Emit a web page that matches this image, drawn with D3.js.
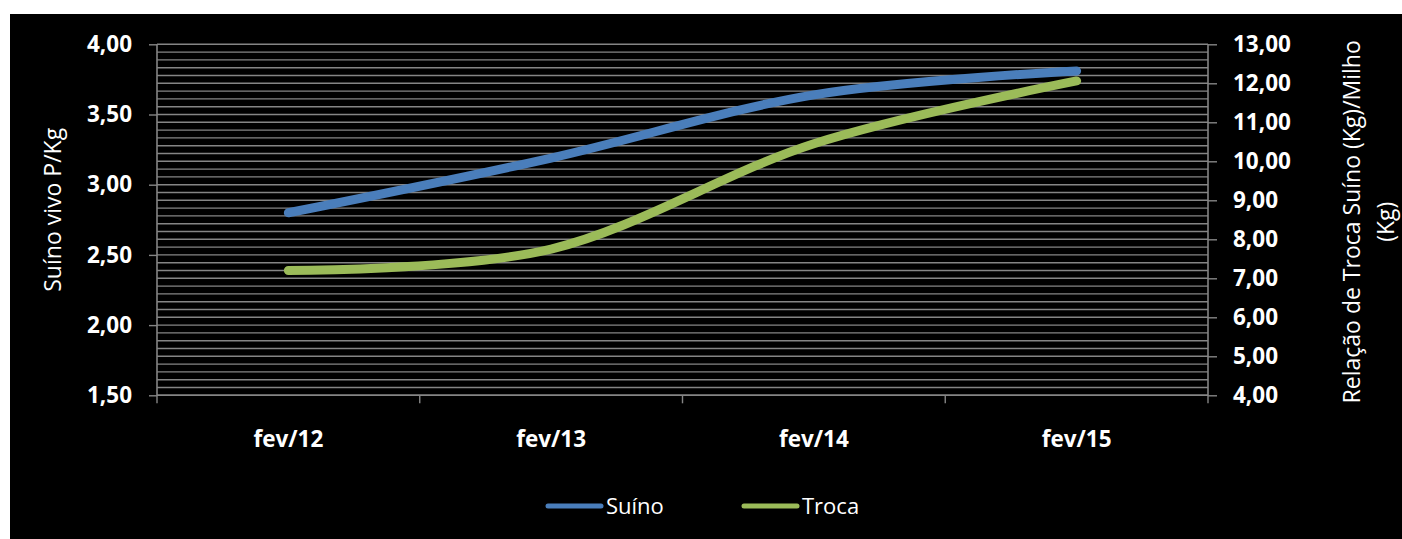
<!DOCTYPE html>
<html>
<head>
<meta charset="utf-8">
<script src="https://cdn.jsdelivr.net/npm/d3@7/dist/d3.min.js"></script>
<style>
  html, body { margin: 0; padding: 0; background: #ffffff; }
  svg { display: block; }
  text { font-family: "Open Sans", "Noto Sans", sans-serif; fill: #ffffff; }
</style>
</head>
<body>
<svg id="chart" width="1402" height="539"></svg>
<script>
// Monthly reference points (February of each year)
const categories = ["fev/12", "fev/13", "fev/14", "fev/15"];
// Live hog price, R$/kg (left axis)
const suinoValues = [2.80, 3.19, 3.64, 3.81];
// Hog/corn exchange ratio, kg of corn per kg of hog (right axis)
const trocaValues = [7.20, 7.75, 10.45, 12.06];
// Axis tick values
const leftTicks = [1.5, 2.0, 2.5, 3.0, 3.5, 4.0];
const rightTicks = [4, 5, 6, 7, 8, 9, 10, 11, 12, 13];
const seriesNames = ["Suíno", "Troca"];
const leftTitle = "Suíno vivo P/Kg";
const rightTitleLines = ["Relação de Troca Suíno (Kg)/Milho", "(Kg)"];

const svg = d3.select("#chart");
const fmt = v => d3.format(".2f")(v).replace(".", ",");

// Chart background
svg.append("rect").attr("x", 10).attr("y", 14).attr("width", 1392).attr("height", 525).attr("fill", "#000000");

const plot = { left: 157, right: 1208, top: 44.3, bottom: 395.3 };
const grey = "#858585";

const x = d3.scaleBand().domain(categories).range([plot.left, plot.right]).paddingInner(0).paddingOuter(0);
const yL = d3.scaleLinear().domain([1.5, 4]).range([plot.bottom, plot.top]);
const yR = d3.scaleLinear().domain([4, 13]).range([plot.bottom, plot.top]);

// Horizontal gridlines on the right-axis minor unit (0.2)
const gridVals = d3.range(0, 46).map(i => 4 + i * 0.2);
svg.append("g").selectAll("line").data(gridVals).join("line")
  .attr("x1", plot.left).attr("x2", plot.right)
  .attr("y1", d => yR(d)).attr("y2", d => yR(d))
  .attr("stroke", grey).attr("stroke-width", 1.4);

// Left axis
const gL = svg.append("g").attr("transform", `translate(${plot.left},0)`)
  .call(d3.axisLeft(yL).tickValues(leftTicks).tickFormat(fmt).tickSize(8).tickPadding(17));
// Right axis
const gR = svg.append("g").attr("transform", `translate(${plot.right},0)`)
  .call(d3.axisRight(yR).tickValues(rightTicks).tickFormat(fmt).tickSize(9).tickPadding(16));
// Bottom axis: ticks on category boundaries, labels centered in each band
const gB = svg.append("g").attr("transform", `translate(0,${plot.bottom})`)
  .call(d3.axisBottom(x).tickSize(0).tickPadding(36));
gB.append("g").selectAll("line")
  .data(categories.map(c => x(c)).concat([plot.right]))
  .join("line")
  .attr("x1", d => d).attr("x2", d => d).attr("y1", 0).attr("y2", 8)
  .attr("stroke", grey).attr("stroke-width", 1.4);

[gL, gR, gB].forEach(g => {
  g.selectAll(".domain").attr("stroke", grey).attr("stroke-width", 1.6);
  g.selectAll(".tick line").attr("stroke", grey).attr("stroke-width", 1.4);
  g.selectAll(".tick text")
    .style("font-family", '"Open Sans", sans-serif')
    .attr("font-size", 22.5).attr("font-weight", "bold").attr("fill", "#ffffff");
});
gL.select(".domain").attr("d", `M0,${plot.top}V${plot.bottom}`);
gR.select(".domain").attr("d", `M0,${plot.top}V${plot.bottom}`);
gB.select(".domain").attr("d", `M${plot.left},0H${plot.right}`);

// Series lines, smoothed
const cx = c => x(c) + x.bandwidth() / 2;
const curve = d3.curveCatmullRom.alpha(0);
const lineL = d3.line().x((d, i) => cx(categories[i])).y(d => yL(d)).curve(curve);
const lineR = d3.line().x((d, i) => cx(categories[i])).y(d => yR(d)).curve(curve);
const colors = ["#4A7EBB", "#9BBB59"];

svg.append("path").datum(suinoValues).attr("d", lineL)
  .attr("fill", "none").attr("stroke", colors[0]).attr("stroke-width", 9)
  .attr("stroke-linecap", "round").attr("stroke-linejoin", "round");
svg.append("path").datum(trocaValues).attr("d", lineR)
  .attr("fill", "none").attr("stroke", colors[1]).attr("stroke-width", 9)
  .attr("stroke-linecap", "round").attr("stroke-linejoin", "round");

// Axis titles
svg.append("text")
  .attr("transform", `translate(61,${(plot.top + plot.bottom) / 2 - 10}) rotate(-90)`)
  .attr("text-anchor", "middle").attr("font-size", 23)
  .text(leftTitle);
const rt = svg.append("text")
  .attr("transform", `translate(1360,${(plot.top + plot.bottom) / 2 + 2}) rotate(-90)`)
  .attr("text-anchor", "middle").attr("font-size", 23);
rt.selectAll("tspan").data(rightTitleLines).join("tspan")
  .attr("x", 0).attr("dy", (d, i) => i === 0 ? 0 : 34).text(d => d);

// Legend
const legend = svg.append("g");
const legendItems = [
  { name: seriesNames[0], color: colors[0], x0: 548 },
  { name: seriesNames[1], color: colors[1], x0: 744 }
];
legendItems.forEach(it => {
  legend.append("line")
    .attr("x1", it.x0).attr("x2", it.x0 + 53).attr("y1", 506).attr("y2", 506)
    .attr("stroke", it.color).attr("stroke-width", 5).attr("stroke-linecap", "round");
  legend.append("text").attr("x", it.x0 + 58).attr("y", 514)
    .attr("font-size", 22).text(it.name);
});
</script>
</body>
</html>
